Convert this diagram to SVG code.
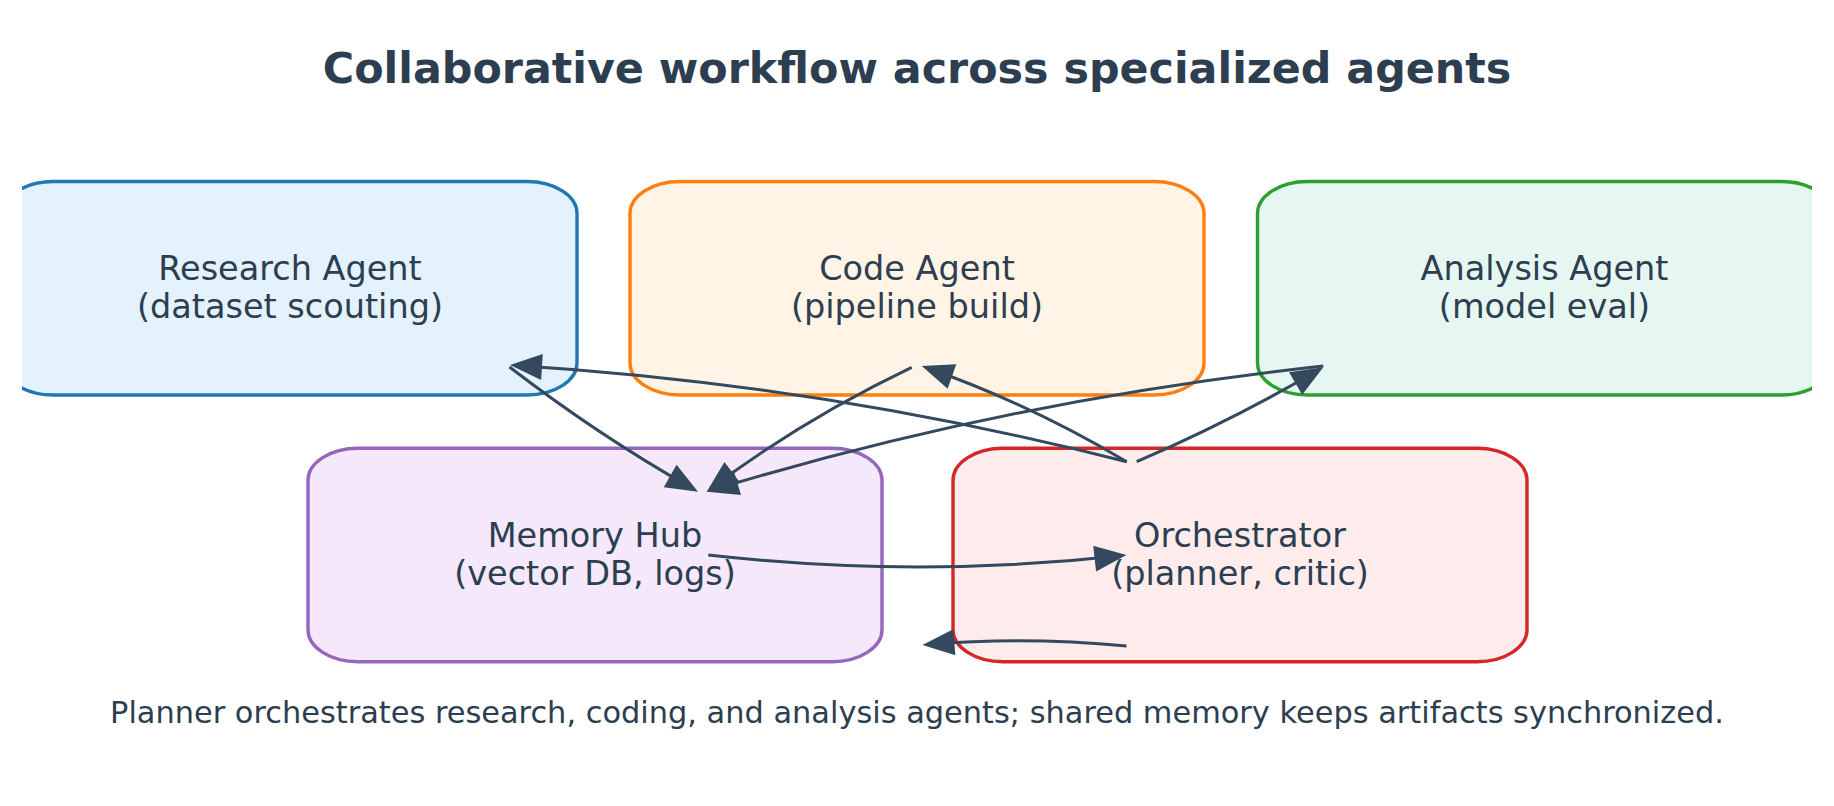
<svg xmlns="http://www.w3.org/2000/svg" width="1834" height="806" viewBox="0 0 1834 806">
<style>
.box{stroke-width:3.4}
.lbl{font-family:"DejaVu Sans","Liberation Sans",sans-serif;font-size:33.5px;fill:#2c3e50;text-anchor:middle}
.title{font-family:"DejaVu Sans","Liberation Sans",sans-serif;font-size:42.8px;font-weight:bold;fill:#2c3e50;text-anchor:middle}
.foot{font-family:"DejaVu Sans","Liberation Sans",sans-serif;font-size:30.4px;fill:#2c3e50;text-anchor:middle}
.edge{fill:none;stroke:#34495e;stroke-width:3;marker-end:url(#head)}
</style>
<defs>
<clipPath id="axclip"><rect x="22" y="0" width="1790" height="806"/></clipPath>
<marker id="head" markerUnits="userSpaceOnUse" markerWidth="34" markerHeight="28" refX="26" refY="0" orient="auto" overflow="visible">
<path d="M0,-13 L32,0 L0,13 z" fill="#34495e"/>
</marker>
</defs>
<rect width="1834" height="806" fill="#ffffff"/>
<text class="title" x="917" y="83">Collaborative workflow across specialized agents</text>
<g id="nodes" clip-path="url(#axclip)">
<g id="research">
<rect class="box" x="3" y="181.5" width="574" height="213.5" rx="50" ry="32" fill="#e3f2fd" stroke="#1f77b4"/>
<text class="lbl" x="290" y="280">Research Agent</text>
<text class="lbl" x="290" y="318">(dataset scouting)</text>
</g>
<g id="code">
<rect class="box" x="630" y="181.5" width="574" height="213.5" rx="50" ry="32" fill="#fff4e6" stroke="#ff7f0e"/>
<text class="lbl" x="917" y="280">Code Agent</text>
<text class="lbl" x="917" y="318">(pipeline build)</text>
</g>
<g id="analysis">
<rect class="box" x="1257.5" y="181.5" width="574" height="213.5" rx="50" ry="32" fill="#e6f7f2" stroke="#2ca02c"/>
<text class="lbl" x="1544.5" y="280">Analysis Agent</text>
<text class="lbl" x="1544.5" y="318">(model eval)</text>
</g>
<g id="memory">
<rect class="box" x="308" y="448.3" width="574" height="213.4" rx="50" ry="32" fill="#f4e8fa" stroke="#9467bd"/>
<text class="lbl" x="595" y="547">Memory Hub</text>
<text class="lbl" x="595" y="585">(vector DB, logs)</text>
</g>
<g id="orchestrator">
<rect class="box" x="953" y="448.3" width="574" height="213.4" rx="50" ry="32" fill="#fdeceb" stroke="#d62728"/>
<text class="lbl" x="1240" y="547">Orchestrator</text>
<text class="lbl" x="1240" y="585">(planner, critic)</text>
</g>
</g>
<g id="connectors">
<path class="edge" d="M509.5,367 Q599.4,436 692.8,488.75"/>
<path class="edge" d="M911.7,367.3 Q803,419.25 711.5,488.1"/>
<path class="edge" d="M1323.3,366 Q1009.1,399.85 712.4,490"/>
<path class="edge" d="M1126.7,461.7 Q822.9,384.35 516,365.4"/>
<path class="edge" d="M1126.7,461.7 Q1029,403.6 927.4,368"/>
<path class="edge" d="M1136.7,461.7 Q1232.8,420.1 1318.1,370.3"/>
<path class="edge" d="M708.3,555 Q917.4,578.4 1120.5,555.7"/>
<path class="edge" d="M1126.5,646 Q1024.5,636.3 928.4,644.5"/>
</g>
<text class="foot" x="917" y="723">Planner orchestrates research, coding, and analysis agents; shared memory keeps artifacts synchronized.</text>
</svg>
